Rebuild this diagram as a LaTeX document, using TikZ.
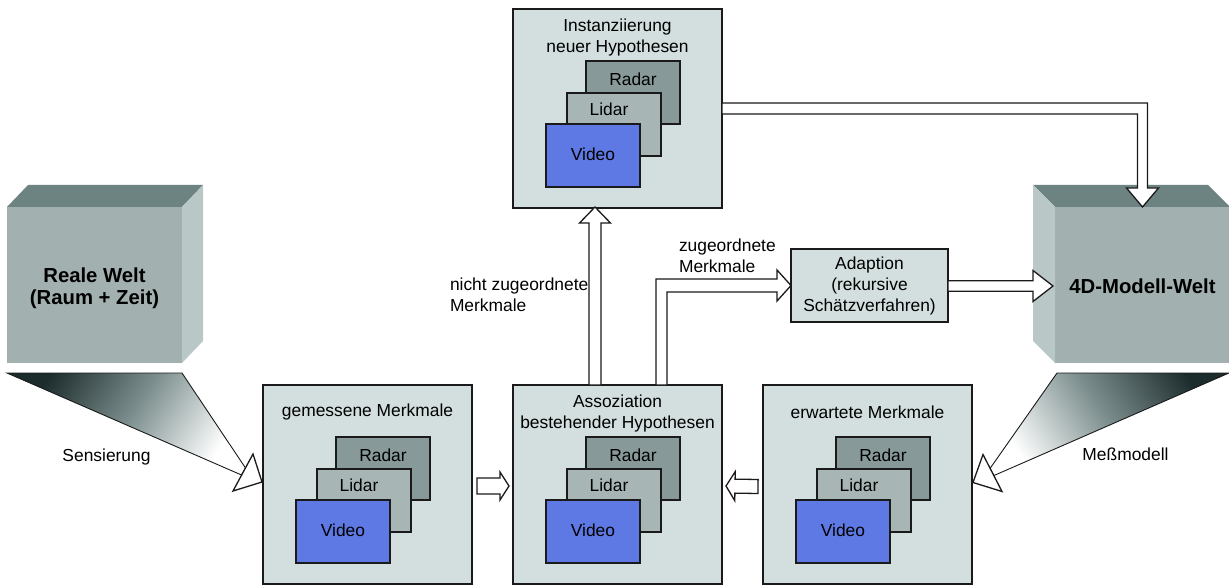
\documentclass[tikz,border=0pt]{standalone}
\usepackage{fontspec}
\setmainfont{Liberation Sans}
\usetikzlibrary{calc}

\definecolor{panel}{HTML}{D3DEDE}
\definecolor{radarc}{HTML}{879A99}
\definecolor{lidarc}{HTML}{A7B6B5}
\definecolor{videoc}{HTML}{5E79E3}
\definecolor{cubefront}{HTML}{A2B1B0}
\definecolor{cubetop}{HTML}{6D8382}
\definecolor{cubeside}{HTML}{B9C8C7}
\definecolor{funneldark}{HTML}{1C2B2B}
\definecolor{funnelmid}{HTML}{7C8F8E}
\definecolor{edge}{HTML}{1A1A1A}

% block arrow: #1 start, #2 tip, #3 half shaft width, #4 half head width, #5 head length
\newcommand\blockarrow[5]{%
  \coordinate (bahead) at ($(#2)!#5!(#1)$);
  \draw[blockline] ($(#1)!#3!90:(#2)$) -- ($(bahead)!#3!90:(#2)$)
    -- ($(bahead)!#4!90:(#2)$) -- (#2) -- ($(bahead)!#4!-90:(#2)$)
    -- ($(bahead)!#3!-90:(#2)$) -- ($(#1)!#3!-90:(#2)$) -- cycle;
}

\tikzset{
  sensorstack/.pic={
    \node[sensorlayer, fill=radarc] (-radar) at (73,52) {};
    \node[sensorlayer, fill=lidarc] (-lidar) at (54,84) {};
    \node[sensorlayer, fill=videoc] (-video) at (33,115) {};
    \node[txt] (-radarlabel) at (120,70) {Radar};
    \node[txt] (-lidarlabel) at (96,100) {Lidar};
    \node[txt] (-videolabel) at (80,145) {Video};
  }
}

\begin{document}
\begin{tikzpicture}[x=1bp, y=-1bp,
  every node/.style={inner sep=0pt, outer sep=0pt},
  txt/.style={font=\fontsize{17.4bp}{21bp}\selectfont, text=black},
  bigtxt/.style={font=\fontsize{20.3bp}{22bp}\selectfont\bfseries, text=black},
  panelbox/.style={draw=edge, line width=1.3bp, fill=panel,
    minimum width=209bp, minimum height=199bp, anchor=north west},
  sensorlayer/.style={draw=edge, line width=1.3bp,
    minimum width=94bp, minimum height=63bp, anchor=north west},
  blockline/.style={draw=edge, line width=1.3bp, fill=white, line join=miter},
  cubefrontface/.style={fill=cubefront, minimum width=175bp, minimum height=156bp, anchor=north west},
  funnelL/.style={draw=edge, line width=0.9bp, top color=funneldark, bottom color=white,
    middle color=funnelmid, shading angle=57},
  funnelR/.style={draw=edge, line width=0.9bp, top color=funneldark, bottom color=white,
    middle color=funnelmid, shading angle=-57}
]
\useasboundingbox (0,0) rectangle (1229,585);

% processing panels
\node[panelbox] (inst) at (513,9) {};
\node[panelbox] (gem) at (263,385) {};
\node[panelbox] (assoc) at (513,385) {};
\node[panelbox] (erw) at (763,385) {};

\pic (inststack) at (inst.north west) {sensorstack};
\pic (gemstack) at (gem.north west) {sensorstack};
\pic (assocstack) at (assoc.north west) {sensorstack};
\pic (erwstack) at (erw.north west) {sensorstack};

\node[txt, align=center] (insttitle) at ($(inst.north)+(0,29)$) {Instanziierung\\neuer Hypothesen};
\node[txt] (gemtitle) at ($(gem.north)+(0,27.5)$) {gemessene Merkmale};
\node[txt, align=center] (assoctitle) at ($(assoc.north)+(0,28.5)$) {Assoziation\\bestehender Hypothesen};
\node[txt] (erwtitle) at ($(erw.north)+(0,27.5)$) {erwartete Merkmale};

% real world cube
\node[cubefrontface] (real) at (7,207) {};
\fill[cubetop] (real.north west) -- ++(21,-22) -- ($(real.north east)+(21,-22)$) -- (real.north east) -- cycle;
\fill[cubeside] (real.north east) -- ++(21,-22) -- ($(real.south east)+(21,-22)$) -- (real.south east) -- cycle;
\node[bigtxt, align=center] (realtext) at ($(real.center)+(0,3)$) {Reale Welt\\(Raum + Zeit)};

% 4D model cube
\node[cubefrontface] (welt) at (1055,207) {};
\fill[cubetop] (welt.north east) -- ++(-22,-22) -- ($(welt.north west)+(-22,-22)$) -- (welt.north west) -- cycle;
\fill[cubeside] (welt.north west) -- ++(-22,-22) -- ($(welt.south west)+(-22,-22)$) -- (welt.south west) -- cycle;
\node[bigtxt] (welttext) at ($(welt.center)+(0,1.5)$) {4D-Modell-Welt};

% sensing funnel
\coordinate (sTip) at ($(gem.west)+(-1,-2.5)$);
\path[funnelL] ($(real.south west)+(0,10)$) -- ($(real.south east)+(0,10)$)
  -- ($(sTip)+(-16.5,-14)$) -- ($(sTip)+(-20.5,-7)$) -- cycle;
\draw[blockline] ($(sTip)+(-9,-28)$) -- (sTip) -- ($(sTip)+(-29,9)$) -- cycle;

% measurement model funnel
\coordinate (mTip) at ($(erw.east)+(1,-2)$);
\path[funnelR] ($(welt.south east)+(-1,10)$) -- ($(welt.south west)+(2,10)$)
  -- ($(mTip)+(17,-14)$) -- ($(mTip)+(21,-7)$) -- cycle;
\draw[blockline] ($(mTip)+(10,-28)$) -- (mTip) -- ($(mTip)+(29,9)$) -- cycle;

% adaption
\node[txt, draw=edge, line width=1.3bp, fill=panel, minimum width=157bp,
  minimum height=73bp, align=center] (adapt) at (869.5,285.5)
  {Adaption\\(rekursive\\Schätzverfahren)};

% block arrows between panels
\coordinate (a1s) at ($(gem.east)+(5,1.5)$);
\coordinate (a1t) at ($(assoc.west)+(-4,1.5)$);
\blockarrow{a1s}{a1t}{8bp}{14bp}{9bp}

\coordinate (a2s) at ($(erw.west)+(-5,2)$);
\coordinate (a2t) at ($(assoc.east)+(4,1.5)$);
\blockarrow{a2s}{a2t}{7bp}{14.5bp}{9bp}

\coordinate (a3s) at ($(assoc.north)+(-22.5,0)$);
\coordinate (a3t) at ($(inst.south)+(-22.5,-1)$);
\blockarrow{a3s}{a3t}{6bp}{15.5bp}{16bp}

\coordinate (a4s) at ($(adapt.east)+(0,0.5)$);
\coordinate (a4t) at ($(welt.west)+(-2,1)$);
\blockarrow{a4s}{a4t}{5.3bp}{15.5bp}{20bp}

% associated features: elbow arrow into the adaption block
\coordinate (e1) at ($(assoc.north)+(38.5,0)$);
\coordinate (e2) at ($(assoc.north)+(49.5,0)$);
\coordinate (etip) at (adapt.west);
\coordinate (etop) at ($(etip)+(0,-6.5)$);
\coordinate (ebot) at ($(etip)+(0,6.5)$);
\draw[blockline] (e1) -- (e1 |- etop) -- ($(etip)+(-14,-6.5)$) -- ($(etip)+(-14,-15.5)$)
  -- (etip) -- ($(etip)+(-14,15.5)$) -- ($(etip)+(-14,6.5)$) -- (e2 |- ebot) -- (e2) -- cycle;

% new hypotheses into the model world
\coordinate (t1) at ($(inst.east)+(0,-5.5)$);
\coordinate (t2) at ($(inst.east)+(0,5.5)$);
\coordinate (ttip) at (welt.north);
\coordinate (tc1) at (ttip |- t1);
\coordinate (tc2) at (ttip |- t2);
\draw[blockline] (t1) -- ($(tc1)+(5,0)$) -- ($(ttip)+(5,-19)$) -- ($(ttip)+(16,-19)$)
  -- (ttip) -- ($(ttip)+(-16,-19)$) -- ($(ttip)+(-5,-19)$) -- ($(tc2)+(-5,0)$) -- (t2) -- cycle;

% labels
\node[txt] (senslabel) at (106.5,457) {Sensierung};
\node[txt] (messlabel) at (1125.5,454.5) {Meßmodell};
\node[txt, align=left, anchor=west] (nzlabel) at (450,295) {nicht zugeordnete\\Merkmale};
\node[txt, align=left, anchor=west] (zlabel) at (679,256) {zugeordnete\\Merkmale};
\end{tikzpicture}
\end{document}
